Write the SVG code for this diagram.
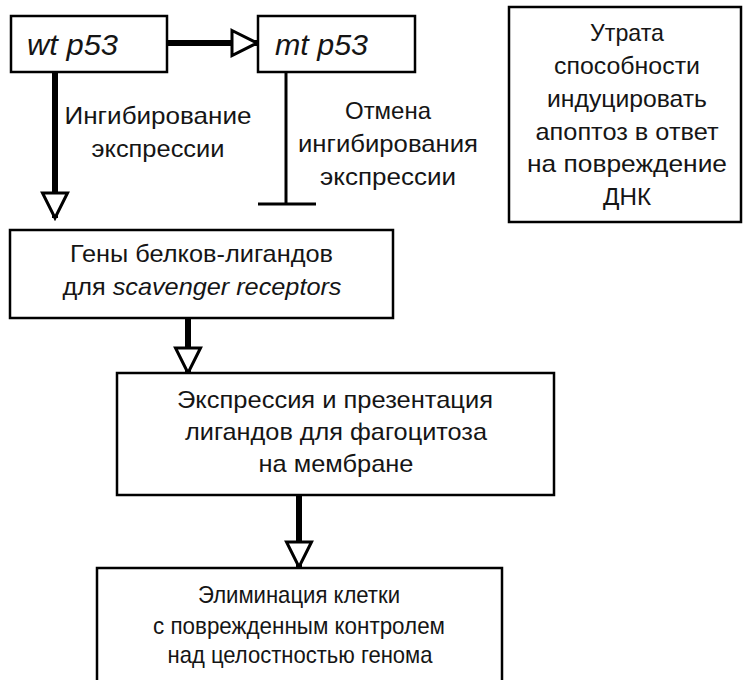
<svg xmlns="http://www.w3.org/2000/svg" width="743" height="680" viewBox="0 0 743 680">
<defs>
<style>
.box{fill:#fff;stroke:#000;stroke-width:2.5}
.t{font-family:"Liberation Sans",Arial,sans-serif;font-size:24px;fill:#151515;text-anchor:middle}
.p{font-family:"Liberation Sans",Arial,sans-serif;font-size:29px;font-style:italic;fill:#151515}
.thick{stroke:#000;stroke-width:6;fill:none}
.thin{stroke:#000;stroke-width:3;fill:none}
</style>
<marker id="ah" markerUnits="userSpaceOnUse" viewBox="0 0 30 30" refX="27" refY="15" markerWidth="30" markerHeight="30" orient="auto">
<path d="M2,2.5 L27,15 L2,27.5 Z" fill="#fff" stroke="#000" stroke-width="3" stroke-linejoin="miter"/>
</marker>
</defs>
<rect width="743" height="680" fill="#fff"/>
<g id="connectors">
<line class="thick" x1="167" y1="43" x2="257" y2="43" marker-end="url(#ah)"/>
<line class="thick" x1="55" y1="72" x2="55" y2="218" marker-end="url(#ah)"/>
<line class="thin" x1="286" y1="72" x2="286" y2="204"/>
<line class="thin" x1="258" y1="204" x2="316" y2="204"/>
<line class="thick" x1="188" y1="318" x2="188" y2="373" marker-end="url(#ah)"/>
<line class="thick" x1="299" y1="495" x2="299" y2="567" marker-end="url(#ah)"/>
<g id="label-inhib">
<text class="t" x="158" y="124" textLength="187" lengthAdjust="spacingAndGlyphs">Ингибирование</text>
<text class="t" x="158" y="157" textLength="133" lengthAdjust="spacingAndGlyphs">экспрессии</text>
</g>
<g id="label-cancel">
<text class="t" x="388" y="119" textLength="86" lengthAdjust="spacingAndGlyphs">Отмена</text>
<text class="t" x="388" y="152" textLength="180" lengthAdjust="spacingAndGlyphs">ингибирования</text>
<text class="t" x="388" y="185" textLength="136" lengthAdjust="spacingAndGlyphs">экспрессии</text>
</g>
</g>
<g id="wt">
<rect class="box" x="11" y="16" width="156" height="56"/>
<text class="p" x="27" y="55" textLength="91" lengthAdjust="spacingAndGlyphs">wt p53</text>
</g>
<g id="mt">
<rect class="box" x="258" y="16" width="157" height="56"/>
<text class="p" x="275" y="55" textLength="93" lengthAdjust="spacingAndGlyphs">mt p53</text>
</g>
<g id="loss">
<rect class="box" x="509" y="7" width="232" height="215"/>
<text class="t" x="627" y="41" textLength="74" lengthAdjust="spacingAndGlyphs">Утрата</text>
<text class="t" x="627" y="74" textLength="146" lengthAdjust="spacingAndGlyphs">способности</text>
<text class="t" x="627" y="107" textLength="160" lengthAdjust="spacingAndGlyphs">индуцировать</text>
<text class="t" x="627" y="140" textLength="183" lengthAdjust="spacingAndGlyphs">апоптоз в ответ</text>
<text class="t" x="627" y="172" textLength="200" lengthAdjust="spacingAndGlyphs">на повреждение</text>
<text class="t" x="627" y="205" textLength="48" lengthAdjust="spacingAndGlyphs">ДНК</text>
</g>
<g id="genes">
<rect class="box" x="10" y="230" width="383" height="88"/>
<text class="t" x="201.5" y="262" textLength="263" lengthAdjust="spacingAndGlyphs">Гены белков-лигандов</text>
<text class="t" x="202" y="295" textLength="279" lengthAdjust="spacingAndGlyphs">для <tspan font-style="italic">scavenger receptors</tspan></text>
</g>
<g id="expr">
<rect class="box" x="117" y="373" width="437" height="122"/>
<text class="t" x="335" y="408" textLength="316" lengthAdjust="spacingAndGlyphs">Экспрессия и презентация</text>
<text class="t" x="336" y="440" textLength="302" lengthAdjust="spacingAndGlyphs">лигандов для фагоцитоза</text>
<text class="t" x="336" y="472" textLength="155" lengthAdjust="spacingAndGlyphs">на мембране</text>
</g>
<g id="elim">
<rect class="box" x="97" y="568" width="405" height="130"/>
<text class="t" x="299" y="603" textLength="202" lengthAdjust="spacingAndGlyphs">Элиминация клетки</text>
<text class="t" x="299" y="634" textLength="292" lengthAdjust="spacingAndGlyphs">с поврежденным контролем</text>
<text class="t" x="300" y="663" textLength="265" lengthAdjust="spacingAndGlyphs">над целостностью генома</text>
</g>
</svg>
